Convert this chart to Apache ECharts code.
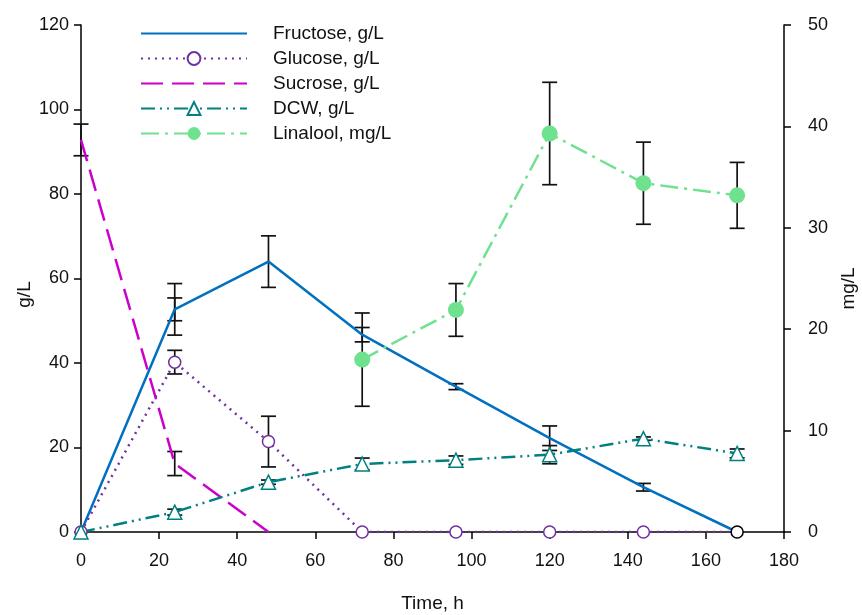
<!DOCTYPE html>
<html>
<head>
<meta charset="utf-8">
<script src="https://cdn.jsdelivr.net/npm/echarts@6/dist/echarts.min.js"></script>
<style>
  html, body { margin: 0; padding: 0; background: #fff; }
  #chart { width: 862px; height: 615px; }
</style>
</head>
<body>
<div id="chart"></div>
<script>
// Sampling times (h)
const hours = [0, 24, 48, 72, 96, 120, 144, 168];

// Concentrations, g/L (left axis)
const fructose   = [0, 52.7, 64.0, 46.7, 34.4, 22.2, 10.6, 0];
const fructoseSd = [null, 6.1, 6.1, 1.7, 0.7, 2.9, 0.9, null];
const fructoseSd2 = [null, 2.7, null, null, null, null, null, null];

const glucose   = [0, 40.2, 21.4, 0, 0, 0, 0, 0];
const glucoseSd = [null, 2.8, 6.0, null, null, null, null, null];

const sucroseHours = [0, 24, 48];
const sucrose   = [92.8, 16.2, 0];
const sucroseSd = [3.75, 2.85, null];

const dcw   = [0, 4.7, 11.8, 16.1, 17.0, 18.3, 22.1, 18.6];
const dcwSd = [null, 0.7, 0.5, 1.4, 1.0, 2.15, 0.4, 1.05];

// Linalool, mg/L (right axis)
const linaloolHours = [72, 96, 120, 144, 168];
const linalool   = [17.0, 21.9, 39.3, 34.4, 33.2];
const linaloolSd = [4.6, 2.6, 5.05, 4.05, 3.25];

// Axis ticks
const xTicks = { min: 0, max: 180, interval: 20 };
const yLeftTicks = { min: 0, max: 120, interval: 20 };
const yRightTicks = { min: 0, max: 50, interval: 10 };

const FONT = 'Liberation Sans, Arial, sans-serif';

function pairs(xs, ys) { return xs.map((x, i) => [x, ys[i]]); }
function bars(xs, ys, sd) {
  const out = [];
  xs.forEach((x, i) => { if (sd[i] != null) out.push([x, ys[i] - sd[i], ys[i] + sd[i]]); });
  return out;
}

function errorBars(data, yAxisIndex) {
  return {
    type: 'custom',
    yAxisIndex: yAxisIndex,
    silent: true,
    z: 1,
    encode: { x: 0, y: [1, 2] },
    data: data,
    renderItem: function (params, api) {
      const x = api.value(0);
      const lo = api.coord([x, api.value(1)]);
      const hi = api.coord([x, api.value(2)]);
      const hw = 7.5;
      const style = { stroke: '#111', lineWidth: 1.7 };
      return {
        type: 'group',
        children: [
          { type: 'line', shape: { x1: lo[0], y1: lo[1], x2: hi[0], y2: hi[1] }, style: style },
          { type: 'line', shape: { x1: lo[0] - hw, y1: lo[1], x2: lo[0] + hw, y2: lo[1] }, style: style },
          { type: 'line', shape: { x1: hi[0] - hw, y1: hi[1], x2: hi[0] + hw, y2: hi[1] }, style: style }
        ]
      };
    }
  };
}

const glucoseData = pairs(hours, glucose).map((p, i) =>
  i === hours.length - 1 ? { value: p, itemStyle: { borderColor: '#000' } } : p);

const leftBars = []
  .concat(bars(hours, fructose, fructoseSd))
  .concat(bars(hours, fructose, fructoseSd2))
  .concat(bars(hours, glucose, glucoseSd))
  .concat(bars(sucroseHours, sucrose, sucroseSd))
  .concat(bars(hours, dcw, dcwSd));
const rightBars = bars(linaloolHours, linalool, linaloolSd);

const axisLine = { show: true, lineStyle: { color: '#000', width: 1.5 } };
const axisTick = { show: true, inside: false, length: 7, lineStyle: { color: '#000', width: 1.5 } };
const noMarker = { opacity: 0 };

const chart = echarts.init(document.getElementById('chart'));
chart.setOption({
  animation: false,
  backgroundColor: '#fff',
  textStyle: { fontFamily: FONT },
  grid: { left: 81, right: 78, top: 25, bottom: 83, outerBoundsMode: 'none', containLabel: false },
  legend: {
    data: [
      { name: 'Fructose, g/L', itemStyle: noMarker },
      { name: 'Glucose, g/L' },
      { name: 'Sucrose, g/L', itemStyle: noMarker },
      { name: 'DCW, g/L' },
      { name: 'Linalool, mg/L' }
    ],
    orient: 'vertical',
    left: 135,
    top: 19,
    itemWidth: 106,
    itemHeight: 16,
    itemGap: 6,
    textStyle: { fontFamily: FONT, fontSize: 19, color: '#111', padding: [0, 0, 0, 21] }
  },
  xAxis: {
    type: 'value',
    min: xTicks.min, max: xTicks.max, interval: xTicks.interval,
    name: 'Time, h',
    nameLocation: 'middle',
    nameGap: 62,
    nameTextStyle: { fontFamily: FONT, fontSize: 19, color: '#111' },
    axisLine: axisLine,
    axisTick: axisTick,
    axisLabel: { fontFamily: FONT, fontSize: 18, color: '#111', margin: 20 },
    splitLine: { show: false }
  },
  yAxis: [
    {
      type: 'value',
      min: yLeftTicks.min, max: yLeftTicks.max, interval: yLeftTicks.interval,
      name: 'g/L',
      nameLocation: 'middle',
      nameGap: 47,
      nameMoveOverlap: false,
      nameTextStyle: { fontFamily: FONT, fontSize: 19, color: '#111', padding: [0, 32, 0, 0] },
      axisLine: axisLine,
      axisTick: axisTick,
      axisLabel: { fontFamily: FONT, fontSize: 18, color: '#111', margin: 12 },
      splitLine: { show: false }
    },
    {
      type: 'value',
      position: 'right',
      min: yRightTicks.min, max: yRightTicks.max, interval: yRightTicks.interval,
      name: 'mg/L',
      nameLocation: 'middle',
      nameGap: 55,
      nameTextStyle: { fontFamily: FONT, fontSize: 19, color: '#111', padding: [0, 20, 0, 0] },
      axisLine: axisLine,
      axisTick: axisTick,
      axisLabel: { fontFamily: FONT, fontSize: 18, color: '#111', margin: 24 },
      splitLine: { show: false }
    }
  ],
  series: [
    errorBars(leftBars, 0),
    errorBars(rightBars, 1),
    {
      name: 'Fructose, g/L', type: 'line', yAxisIndex: 0, z: 2,
      symbol: 'none',
      data: pairs(hours, fructose),
      lineStyle: { color: '#0070C0', width: 2.5 },
      itemStyle: { color: '#0070C0' }
    },
    {
      name: 'Sucrose, g/L', type: 'line', yAxisIndex: 0, z: 2,
      symbol: 'none',
      data: pairs(sucroseHours, sucrose),
      lineStyle: { color: '#CC00CC', width: 2.5, type: [22, 9] },
      itemStyle: { color: '#CC00CC' }
    },
    {
      name: 'Glucose, g/L', type: 'line', yAxisIndex: 0, z: 3,
      symbol: 'circle', symbolSize: 12, showAllSymbol: true,
      data: glucoseData,
      lineStyle: { color: '#7030A0', width: 2.5, type: [2, 5] },
      itemStyle: { color: '#fff', borderColor: '#7030A0', borderWidth: 1.5 }
    },
    {
      name: 'DCW, g/L', type: 'line', yAxisIndex: 0, z: 3,
      symbol: 'triangle', symbolSize: 14, showAllSymbol: true,
      data: pairs(hours, dcw),
      lineStyle: { color: '#008080', width: 2.5, type: [14, 5, 2, 5, 2, 5] },
      itemStyle: { color: '#fff', borderColor: '#008080', borderWidth: 1.5 }
    },
    {
      name: 'Linalool, mg/L', type: 'line', yAxisIndex: 1, z: 3,
      symbol: 'circle', symbolSize: 16, showAllSymbol: true,
      data: pairs(linaloolHours, linalool),
      lineStyle: { color: '#6EE28F', width: 2.5, type: [18, 6, 3, 6] },
      itemStyle: { color: '#6EE28F' }
    }
  ]
});
</script>
</body>
</html>
